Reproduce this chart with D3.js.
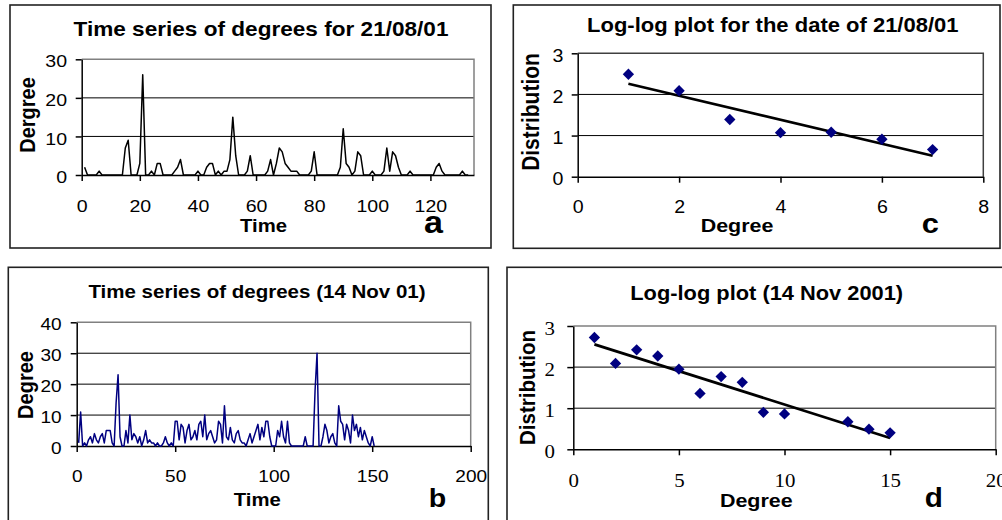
<!DOCTYPE html>
<html>
<head>
<meta charset="utf-8">
<script src="https://cdn.jsdelivr.net/npm/d3@7"></script>
<style>
  body { margin: 0; background: #fff; }
  svg { display: block; font-family: "Liberation Sans", Arial, sans-serif; }
  text { fill: #000; }
</style>
</head>
<body>
<svg id="chart" width="1002" height="520"></svg>
<script>
// ---- data ----
// (a) degree per time step, 21/08/01 (time = 1, 2, 3, ...)
const degreesA = [
  2, 0, 0, 0, 0, 1, 0, 0, 0, 0, 0, 0, 0, 0, 7, 9, 0, 0, 0, 3,
  26, 0, 0, 1, 0, 3, 3, 0, 0, 0, 0, 1, 2, 4, 0, 0, 0, 0, 0, 1,
  0, 0, 2, 3, 3, 0, 1, 0, 1, 1, 4, 15, 5, 0, 0, 0, 1, 5, 0, 0,
  0, 0, 0, 1, 4, 0, 3, 7, 6, 3, 2, 1, 1, 1, 0, 0, 0, 0, 1, 6,
  0, 0, 0, 0, 0, 0, 0, 0, 2, 12, 3, 2, 0, 1, 6, 5, 0, 0, 0, 1,
  0, 0, 0, 1, 7, 1, 6, 5, 2, 0, 0, 0, 1, 0, 0, 0, 0, 0, 0, 0,
  0, 2, 3, 1, 0, 0, 0, 0, 0, 0, 1, 0, 0
];
// (b) degree per time step, 14 Nov 01
const degreesB = [
  1, 11, 0, 1, 0, 2, 3, 1, 4, 2, 1, 3, 4, 1, 5, 5, 5, 1, 0, 14,
  23, 3, 0, 0, 5, 1, 10, 2, 4, 3, 1, 3, 0, 2, 5, 1, 2, 1, 1, 0,
  1, 0, 0, 1, 3, 1, 0, 1, 0, 8, 8, 2, 7, 6, 1, 5, 7, 2, 3, 5,
  2, 7, 8, 3, 10, 2, 4, 5, 3, 1, 2, 8, 7, 1, 13, 3, 2, 6, 2, 1,
  4, 5, 2, 1, 1, 0, 2, 4, 1, 3, 5, 7, 2, 6, 3, 8, 8, 3, 0, 0,
  0, 5, 3, 8, 3, 1, 8, 1, 0, 0, 0, 0, 0, 0, 0, 3, 0, 0, 0, 0,
  18, 30, 0, 0, 3, 7, 5, 1, 3, 4, 1, 0, 13, 8, 7, 2, 7, 5, 1, 10,
  5, 7, 3, 6, 2, 5, 3, 1, 0, 3, 0
];
// (c) log-log distribution, 21/08/01
const degreeC = [1, 2, 3, 4, 5, 6, 7];
const distC = [2.49, 2.09, 1.39, 1.07, 1.08, 0.91, 0.66];
// (d) log-log distribution, 14 Nov 2001
const degreeD = [1, 2, 3, 4, 5, 6, 7, 8, 9, 10, 13, 14, 15];
const distD = [2.72, 2.09, 2.42, 2.27, 1.95, 1.36, 1.77, 1.63, 0.90, 0.86, 0.67, 0.49, 0.40];

const ticksAx = [0, 20, 40, 60, 80, 100, 120];
const ticksAy = [0, 10, 20, 30];
const ticksBx = [0, 50, 100, 150, 200];
const ticksBy = [0, 10, 20, 30, 40];
const ticksCx = [0, 2, 4, 6, 8];
const ticksDx = [0, 5, 10, 15, 20];
const ticksLogY = [0, 1, 2, 3];

const svg = d3.select('#chart');
const NAVY = '#000080';

// the scan is a little wider than tall, so text is stretched horizontally
function stretch(sel, sx) {
  sel.each(function () {
    const t = d3.select(this);
    const x = +t.attr('x') || 0, y = +t.attr('y') || 0;
    t.attr('x', 0).attr('y', 0)
      .attr('transform', `translate(${x},${y}) scale(${sx},1)`);
  });
}

function label(g, str, x, y, o) {
  return g.append('text')
    .attr('transform', `translate(${x},${y}) scale(${o.sx || 1.12},1)` + (o.rotate ? ' rotate(-90)' : ''))
    .attr('text-anchor', o.anchor || 'middle')
    .attr('font-size', o.size)
    .attr('font-weight', o.bold === false ? null : 'bold')
    .text(str);
}

function fit(xs, ys) {
  const mx = d3.mean(xs), my = d3.mean(ys);
  const b = d3.sum(xs, (v, i) => (v - mx) * (ys[i] - my)) / d3.sum(xs, v => (v - mx) ** 2);
  return v => my + b * (v - mx);
}

function drawPanel(p) {
  const g = svg.append('g');
  const f = p.frame;
  g.append('rect')
    .attr('x', f[0]).attr('y', f[1]).attr('width', f[2] - f[0]).attr('height', f[3] - f[1])
    .attr('fill', 'none').attr('stroke', '#222').attr('stroke-width', 1.6);

  const pl = p.plot;
  const x = d3.scaleLinear().domain(p.xDomain).range([pl.left, pl.right]);
  const y = d3.scaleLinear().domain(p.yDomain).range([pl.bottom, pl.top]);

  // horizontal gridlines
  g.selectAll('.grid')
    .data(p.yTicks.filter(v => v > p.yDomain[0] && v < p.yDomain[1]))
    .join('line')
    .attr('x1', pl.left).attr('x2', pl.right)
    .attr('y1', d => y(d)).attr('y2', d => y(d))
    .attr('stroke', '#000').attr('stroke-width', 1);

  // plot area border (top and right)
  g.append('path')
    .attr('d', `M${pl.left},${y(p.yDomain[1])}H${x(p.xDomain[1])}V${pl.bottom}`)
    .attr('fill', 'none').attr('stroke', p.edge).attr('stroke-width', 1.5);

  // axes
  const fmt = d3.format('d');
  const ya = g.append('g').attr('transform', `translate(${pl.left},0)`)
    .call(d3.axisLeft(y).tickValues(p.yTicks).tickFormat(fmt).tickSize(6).tickSizeOuter(0).tickPadding(p.yPad));
  const xa = g.append('g').attr('transform', `translate(0,${pl.bottom})`)
    .call(d3.axisBottom(x).tickValues(p.xTicks).tickFormat(fmt).tickSize(6).tickSizeOuter(0).tickPadding(p.xPad));
  [ya, xa].forEach(a => {
    a.attr('font-size', p.tickSize).attr('font-family', p.tickFamily);
    a.selectAll('path, line').attr('stroke', '#000').attr('stroke-width', 1.5);
  });
  ya.selectAll('text').attr('dy', '0.45em').call(stretch, p.tickSx);
  xa.selectAll('text').call(stretch, p.tickSx);

  // series
  if (p.line) {
    const pts = p.line.map((v, i) => [i + 1, v]);
    g.append('path').datum(pts)
      .attr('d', d3.line().x(d => x(d[0])).y(d => y(d[1])))
      .attr('fill', 'none').attr('stroke', p.lineColor).attr('stroke-width', 1.5)
      .attr('stroke-linejoin', 'round');
  }
  if (p.xs) {
    const trend = fit(p.xs, p.ys);
    const x0 = d3.min(p.xs), x1 = d3.max(p.xs);
    g.append('line')
      .attr('x1', x(x0)).attr('y1', y(trend(x0)))
      .attr('x2', x(x1)).attr('y2', y(trend(x1)))
      .attr('stroke', '#000').attr('stroke-width', 2.7);
    g.selectAll('.pt').data(p.xs.map((v, i) => [v, p.ys[i]])).join('path')
      .attr('transform', d => `translate(${x(d[0])},${y(d[1])}) rotate(45)`)
      .attr('d', d3.symbol(d3.symbolSquare, 64))
      .attr('fill', NAVY);
  }

  // texts
  const t = p.text;
  label(g, t.title[0], t.title[1], t.title[2], { size: t.title[3], sx: t.title[4] });
  label(g, t.xTitle[0], t.xTitle[1], t.xTitle[2], { size: t.xTitle[3], sx: 1.16 });
  label(g, t.yTitle[0], t.yTitle[1], t.yTitle[2], { size: t.yTitle[3], sx: 1.12, rotate: true });
  label(g, t.tag[0], t.tag[1], t.tag[2], { size: t.tag[3], sx: 1.1 });
}

drawPanel({
  frame: [10, 5, 491, 248],
  plot: { left: 81.7, right: 474, top: 59.3, bottom: 175 },
  xDomain: [0, 135], yDomain: [0, 30], xTicks: ticksAx, yTicks: ticksAy,
  tickSize: 17, tickSx: 1.15, tickFamily: '"Liberation Sans", Arial, sans-serif', yPad: 8.7, xPad: 18.6,
  edge: '#808080', line: degreesA, lineColor: '#000',
  text: {
    title: ['Time series of degrees for 21/08/01', 261, 36, 20, 1.13],
    xTitle: ['Time', 263.5, 231.7, 17.5],
    yTitle: ['Dergree', 35, 115, 20],
    tag: ['a', 433.5, 233.3, 31]
  }
});

drawPanel({
  frame: [8.3, 267.3, 488.3, 540],
  plot: { left: 76.7, right: 470.7, top: 322.3, bottom: 446 },
  xDomain: [0, 200], yDomain: [0, 40], xTicks: ticksBx, yTicks: ticksBy,
  tickSize: 17, tickSx: 1.12, tickFamily: '"Liberation Sans", Arial, sans-serif', yPad: 9, xPad: 17.6,
  edge: '#808080', line: degreesB, lineColor: NAVY,
  text: {
    title: ['Time series of degrees (14 Nov 01)', 257, 298.3, 18.5, 1.11],
    xTitle: ['Time', 257.3, 505.7, 17.5],
    yTitle: ['Degree', 33.3, 385, 20],
    tag: ['b', 437.5, 506.7, 26]
  }
});

drawPanel({
  frame: [513.3, 5, 1000, 248.3],
  plot: { left: 577.7, right: 983.3, top: 53.3, bottom: 176.7 },
  xDomain: [0, 8], yDomain: [0, 3], xTicks: ticksCx, yTicks: ticksLogY,
  tickSize: 17.5, tickSx: 1.12, tickFamily: '"Liberation Sans", Arial, sans-serif', yPad: 8.4, xPad: 18.2,
  edge: '#404040', xs: degreeC, ys: distC,
  text: {
    title: ['Log-log plot for the date of 21/08/01', 772.8, 31.7, 20, 1.1],
    xTitle: ['Degree', 737, 231.7, 18.5],
    yTitle: ['Distribution', 539.3, 112, 21],
    tag: ['c', 930.2, 233, 28]
  }
});

drawPanel({
  frame: [507, 267.3, 1020, 540],
  plot: { left: 573.3, right: 995.7, top: 326, bottom: 449.3 },
  xDomain: [0, 20], yDomain: [0, 3], xTicks: ticksDx, yTicks: ticksLogY,
  tickSize: 19, tickSx: 1.1, tickFamily: '"Liberation Serif", "Times New Roman", serif', yPad: 12.3, xPad: 18.6,
  edge: '#808080', xs: degreeD, ys: distD,
  text: {
    title: ['Log-log plot (14 Nov 2001)', 766.7, 300, 19.5, 1.12],
    xTitle: ['Degree', 756.3, 506.7, 18.5],
    yTitle: ['Distribution', 535, 387.5, 20.5],
    tag: ['d', 933.8, 506.7, 27]
  }
});
</script>
</body>
</html>
